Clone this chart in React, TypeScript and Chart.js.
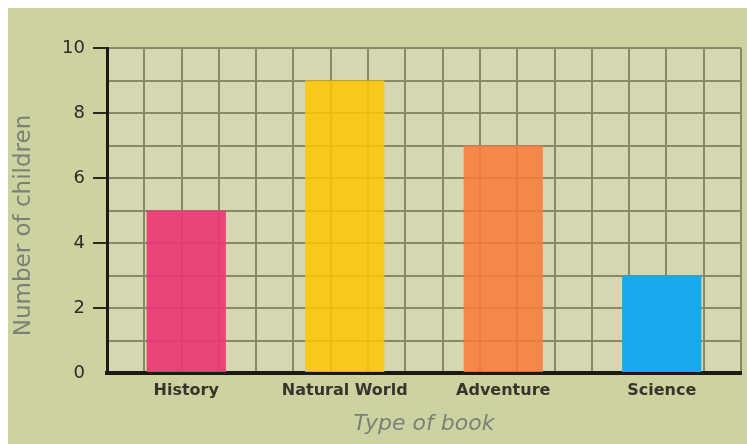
import { useEffect, useRef } from 'react';
import { Chart, registerables } from 'chart.js';

Chart.register(...registerables);

const categories = ['History', 'Natural World', 'Adventure', 'Science'];
const children = [5, 9, 7, 3];
const yTitle = 'Number of children';
const xTitle = 'Type of book';

const barColors = [
  'rgba(236,56,115,0.92)',
  'rgba(255,197,2,0.85)',
  'rgba(251,121,58,0.85)',
  'rgba(23,169,234,1)',
];

const OUTER_BG = '#cdd3a0';
const PLOT_BG = '#d4d7b1';
const GRID = '#868a68';
const AXIS = '#1b1b12';
const TITLE_COLOR = '#7e8078';

const bgPlugin = {
  id: 'bgPlugin',
  beforeDraw(chart: any) {
    const { ctx, chartArea, width, height } = chart;
    ctx.save();
    ctx.fillStyle = OUTER_BG;
    ctx.fillRect(0, 0, width, height);
    ctx.fillStyle = PLOT_BG;
    ctx.fillRect(chartArea.left, chartArea.top, chartArea.right - chartArea.left, chartArea.bottom - chartArea.top);
    ctx.restore();
  },
};

const yTitlePlugin = {
  id: 'yTitlePlugin',
  afterDraw(chart: any) {
    const { ctx, chartArea } = chart;
    const cy = (chartArea.top + chartArea.bottom) / 2 + 15;
    ctx.save();
    ctx.translate(16, cy);
    ctx.rotate(-Math.PI / 2);
    ctx.fillStyle = TITLE_COLOR;
    ctx.font = '23px "DejaVu Sans"';
    ctx.textAlign = 'center';
    ctx.textBaseline = 'middle';
    ctx.fillText(yTitle, 0, 0);
    ctx.restore();
  },
};

export default function App() {
  const ref = useRef<HTMLCanvasElement | null>(null);

  useEffect(() => {
    document.documentElement.style.overflow = 'hidden';
    document.body.style.margin = '8px 0 0 8px';
    const canvas = ref.current;
    if (!canvas) return;
    const chart = new Chart(canvas, {
      type: 'bar',
      data: {
        labels: categories,
        datasets: [
          {
            data: children,
            backgroundColor: barColors,
            borderWidth: 0,
            barPercentage: 0.5,
            categoryPercentage: 1,
            xAxisID: 'x',
            yAxisID: 'y',
          },
        ],
      },
      options: {
        animation: false,
        responsive: false,
        maintainAspectRatio: false,
        devicePixelRatio: 1,
        layout: { padding: { left: 0, right: 6, top: 40, bottom: 0 } },
        plugins: {
          legend: { display: false },
          tooltip: { enabled: false },
        },
        scales: {
          x: {
            type: 'category',
            position: 'bottom',
            grid: { display: false, drawTicks: false },
            border: { color: AXIS, width: 4 },
            ticks: {
              color: '#35352a',
              font: { family: 'DejaVu Sans', size: 16, weight: 'bold' },
              padding: 8,
            },
            title: {
              display: true,
              text: xTitle,
              color: TITLE_COLOR,
              font: { family: 'DejaVu Sans', size: 22, style: 'italic' },
              padding: { top: 4, bottom: 7 },
            },
            afterFit: (s: any) => {
              s.height = 71;
            },
          },
          xgrid: {
            type: 'linear',
            axis: 'x',
            position: 'top',
            min: 0,
            max: 16,
            ticks: { display: false, stepSize: 1 },
            grid: { color: GRID, lineWidth: 2, drawTicks: false },
            border: { display: false },
            afterFit: (s: any) => {
              s.height = 0;
            },
          },
          y: {
            type: 'linear',
            min: 0,
            max: 10,
            ticks: {
              stepSize: 1,
              color: '#2d2d22',
              font: { family: 'DejaVu Sans', size: 18 },
              padding: 8,
              callback: (v: any) => (Number(v) % 2 === 0 ? String(v) : ''),
            },
            grid: {
              color: GRID,
              lineWidth: 2,
              tickLength: 14,
              tickWidth: 2,
              tickColor: (ctx: any) =>
                ctx.tick && ctx.tick.value % 2 === 0 && ctx.tick.value > 0 ? '#2a2a1c' : 'rgba(0,0,0,0)',
            },
            border: { color: AXIS, width: 3 },
            title: { display: false },
            afterFit: (s: any) => {
              s.width = 99;
            },
          },
        },
      } as any,
      plugins: [bgPlugin, yTitlePlugin],
    });
    return () => chart.destroy();
  }, []);

  return (
    <div style={{ position: 'relative', width: 739, height: 436 }}>
      <canvas ref={ref} width={739} height={436} style={{ display: 'block', width: 739, height: 436 }} />
    </div>
  );
}
